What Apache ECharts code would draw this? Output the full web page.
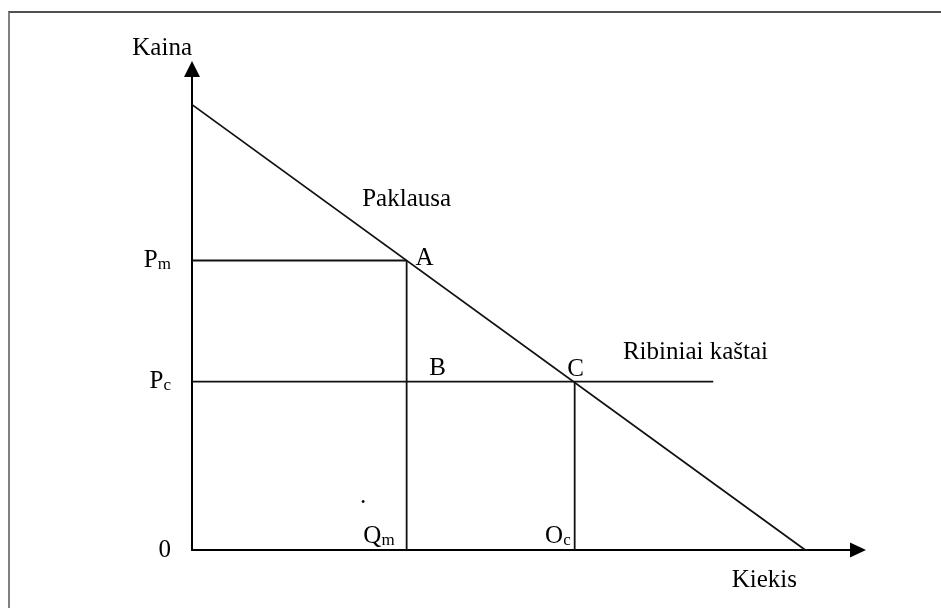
<!DOCTYPE html>
<html>
<head>
<meta charset="utf-8">
<script src="https://cdn.jsdelivr.net/npm/echarts@6/dist/echarts.min.js"></script>
<style>
  html, body { margin: 0; padding: 0; background: #fff; }
  #frame { position: absolute; left: 8px; top: 11px; width: 940px; height: 600px;
           border-left: 2px solid #808080; border-top: 2px solid #505050; }
  #chart { position: absolute; left: 0; top: 0; width: 941px; height: 608px; }
</style>
</head>
<body>
<div id="frame"></div>
<div id="chart"></div>
<script>
// demand curve: price falls linearly with quantity
var demand = [[0, 10], [10, 0]];
var priceMono = 6.5;   // Pm
var qtyMono = 3.5;     // Qm
var priceComp = 3.78;  // Pc
var qtyComp = 6.24;    // Qc
var costEnd = 8.5;     // marginal cost line stops here

var yTickValues = [0, priceComp, priceMono];
var yTickNames = ["{p|0}", "{p|P}{s|c}", "{p|P}{s|m}"];
var xTickValues = [qtyMono, qtyComp];
var xTickNames = ["{p|Q}{sq|m}", "{p|O}{sc|c}"];

var pointNames = ["A", "B", "C"];
var pointCoords = [[qtyMono, priceMono], [qtyMono, priceComp], [qtyComp, priceComp]];

var noteNames = ["Paklausa", "Ribiniai kaštai", "."];
var noteCoords = [[3.5, 7.87], [8.21, 4.44], [2.79, 1.21]];

var FONT = "Liberation Serif";
var SIZE = 25;
var rich = {
  p: { fontFamily: FONT, fontSize: SIZE, color: "#000", verticalAlign: "bottom" },
  s: { fontFamily: FONT, fontSize: 17, color: "#000", verticalAlign: "bottom" },
  sq: { fontFamily: FONT, fontSize: 17, color: "#000", verticalAlign: "bottom", padding: [0, 12, 0, 0] },
  sc: { fontFamily: FONT, fontSize: 17, color: "#000", verticalAlign: "bottom", padding: [0, 4, 0, 0] },
};

function seg(data) {
  return {
    type: "line",
    data: data,
    symbol: "none",
    silent: true,
    lineStyle: { color: "#111", width: 1.8 },
  };
}

var textLabel = {
  show: true,
  position: "inside",
  formatter: "{b}",
  fontFamily: FONT,
  fontSize: SIZE,
  color: "#000",
  opacity: 1,
  textBorderWidth: 0,
};

// label offsets for A, B, C (pixels)
var pointOffsets = [[18, -2], [31, -13], [1, -12]];

var myChart = echarts.init(document.getElementById("chart"));
var option = {
  animation: false,
  grid: { left: 192, right: 83, top: 69, bottom: 58 },
  xAxis: {
    type: "value",
    min: 0,
    max: 10.86,
    name: "Kiekis",
    nameLocation: "end",
    nameGap: -61,
    nameTextStyle: { fontFamily: FONT, fontSize: SIZE, color: "#000", align: "right", verticalAlign: "top", padding: [18, 0, 0, 0] },
    axisLine: { lineStyle: { color: "#000", width: 2 }, symbol: ["none", "triangle"], symbolSize: [15, 16] },
    axisTick: { show: false },
    splitLine: { show: false },
    axisLabel: {
      inside: true,
      customValues: xTickValues,
      align: "right",
      margin: 1,
      formatter: function (v) {
        return xTickNames[xTickValues.indexOf(v)];
      },
      rich: rich,
    },
  },
  yAxis: {
    type: "value",
    min: 0,
    max: 10.8,
    name: "Kaina",
    nameLocation: "end",
    nameGap: 8,
    nameTextStyle: { fontFamily: FONT, fontSize: SIZE, color: "#000", align: "right" },
    axisLine: { show: true, lineStyle: { color: "#000", width: 2 }, symbol: ["none", "triangle"], symbolSize: [16, 16] },
    axisTick: { show: false },
    splitLine: { show: false },
    axisLabel: {
      customValues: yTickValues,
      margin: 21,
      formatter: function (v) {
        return yTickNames[yTickValues.indexOf(v)];
      },
      rich: rich,
    },
  },
  series: [
    seg(demand),
    seg([[0, priceMono], [qtyMono, priceMono]]),
    seg([[qtyMono, priceMono], [qtyMono, 0]]),
    seg([[0, priceComp], [costEnd, priceComp]]),
    seg([[qtyComp, priceComp], [qtyComp, 0]]),
    {
      type: "scatter",
      symbolSize: 0,
      silent: true,
      clip: false,
      itemStyle: { opacity: 1 },
      data: pointNames.map(function (n, i) {
        return {
          value: pointCoords[i],
          name: n,
          label: { offset: pointOffsets[i] },
        };
      }),
      label: textLabel,
    },
    {
      type: "scatter",
      symbolSize: 0,
      silent: true,
      clip: false,
      itemStyle: { opacity: 1 },
      data: noteNames.map(function (n, i) {
        return { value: noteCoords[i], name: n };
      }),
      label: textLabel,
    },
  ],
};
myChart.setOption(option);
</script>
</body>
</html>
